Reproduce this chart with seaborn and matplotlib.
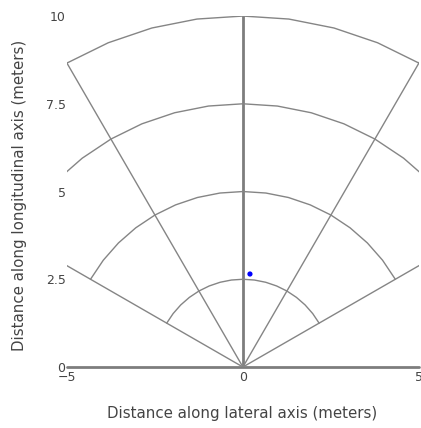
import numpy as np
import pandas as pd
import seaborn as sns
import matplotlib.pyplot as plt

# range rings (radius, half opening angle in degrees)
ring_radius = [2.5, 5.0, 7.5, 10.0]
ring_half_angle = [60, 60, 60, 30]
# rays from the origin (angle from the longitudinal axis, degrees)
ray_angles = [-60, -30, 30, 60]
ray_length = 12.0
# detected target
target_x = [0.2]
target_y = [2.65]

x_ticks = [-5, 0, 5]
x_ticklabels = ["\u22125", "0", "5"]
y_ticks = [0, 2.5, 5, 7.5, 10]
y_ticklabels = ["0", "2.5", "5", "7.5", "10"]

sns.set_style("white")
plt.rcParams['font.family'] = ['DejaVu Sans']

fig = plt.figure(figsize=(4.21, 4.28), dpi=100)
ax = fig.add_axes([0.159, 0.1425, 0.836, 0.820])

line_col = "#858585"
step = 7.5
for r, half in zip(ring_radius, ring_half_angle):
    ang = np.arange(-90, 90 + step, step)
    ang = ang[(ang > -half) & (ang < half)]
    ang = np.concatenate([[-half], ang, [half]])
    t = np.deg2rad(ang)
    seg = pd.DataFrame({"x": r * np.sin(t), "y": r * np.cos(t)})
    sns.lineplot(data=seg, x="x", y="y", sort=False, estimator=None,
                 color=line_col, linewidth=1.0, ax=ax)

for a in ray_angles:
    t = np.deg2rad(a)
    seg = pd.DataFrame({"x": [0, ray_length * np.sin(t)],
                        "y": [0, ray_length * np.cos(t)]})
    sns.lineplot(data=seg, x="x", y="y", sort=False, estimator=None,
                 color=line_col, linewidth=1.0, ax=ax)

# zero lines
ax.axvline(0, color="#7d7d7d", linewidth=2.0, zorder=1)
ax.axhline(0, color="#7d7d7d", linewidth=2.0, zorder=1, clip_on=False)

sns.scatterplot(x=target_x, y=target_y, color="#0000ff", s=14,
                edgecolor="none", ax=ax, zorder=5)

ax.set_xlim(-5, 5)
ax.set_ylim(0, 10)
ax.set_xticks(x_ticks)
ax.set_xticklabels(x_ticklabels)
ax.set_yticks(y_ticks)
ax.set_yticklabels(y_ticklabels)
ax.tick_params(length=0, labelsize=9, labelcolor="#444444")
ax.tick_params(axis="y", pad=1)
ax.tick_params(axis="x", pad=3)
for s in ax.spines.values():
    s.set_visible(False)
ax.set_xlabel("")
ax.set_ylabel("")
fig.text(0.575, 0.033, "Distance along lateral axis (meters)", fontsize=10.8,
         color="#444444", ha="center", va="center")
fig.text(0.0475, 0.544, "Distance along longitudinal axis (meters)",
         fontsize=10.8, color="#444444", ha="center", va="center",
         rotation=90)

fig.savefig("out.png", dpi=100)
